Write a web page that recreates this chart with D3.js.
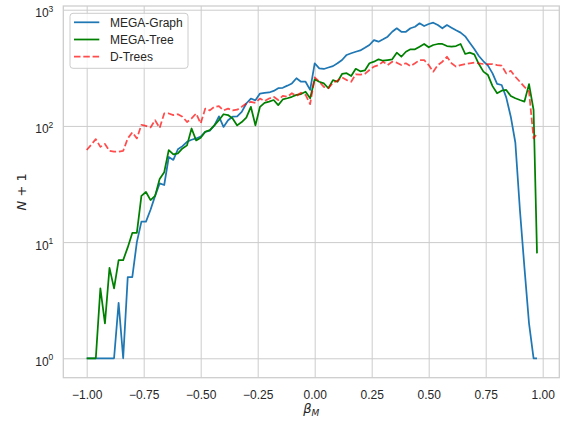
<!DOCTYPE html>
<html>
<head>
<meta charset="utf-8">
<script src="https://cdn.jsdelivr.net/npm/d3@7"></script>
<style>
  html, body { margin: 0; padding: 0; background: #ffffff; }
  svg { display: block; }
</style>
</head>
<body>
<svg id="chart" width="566" height="421"></svg>
<script>
// ---- data (bin position beta_M, and N+1 counts per method) ----
const betas = [
  -1.00,-0.98,-0.96,-0.94,-0.92,-0.90,-0.88,-0.86,-0.84,-0.82,
  -0.80,-0.78,-0.76,-0.74,-0.72,-0.70,-0.68,-0.66,-0.64,-0.62,
  -0.60,-0.58,-0.56,-0.54,-0.52,-0.50,-0.48,-0.46,-0.44,-0.42,
  -0.40,-0.38,-0.36,-0.34,-0.32,-0.30,-0.28,-0.26,-0.24,-0.22,
  -0.20,-0.18,-0.16,-0.14,-0.12,-0.10,-0.08,-0.06,-0.04,-0.02,
   0.00, 0.02, 0.04, 0.06, 0.08, 0.10, 0.12, 0.14, 0.16, 0.18,
   0.20, 0.22, 0.24, 0.26, 0.28, 0.30, 0.32, 0.34, 0.36, 0.38,
   0.40, 0.42, 0.44, 0.46, 0.48, 0.50, 0.52, 0.54, 0.56, 0.58,
   0.60, 0.62, 0.64, 0.66, 0.68, 0.70, 0.72, 0.74, 0.76, 0.78,
   0.80, 0.82, 0.84, 0.86, 0.88, 0.90, 0.92, 0.94, 0.96, 0.975
];

const megaGraph = [
  1,1,1,1,1,1,1,3,1,5,
  5,10,15,15,19,25,32,31,54,51,
  63,67,73,76,78,81,89,91,101,121,
  98,112,120,121,132,156,172,166,190,192,
  194,200,211,213,222,232,257,240,240,204,
  346,313,309,318,327,346,369,408,422,435,
  446,470,497,548,531,556,586,646,692,646,
  646,692,714,764,724,753,773,738,692,738,
  700,665,635,590,520,460,400,360,330,283,
  230,225,176,120,72,19,6,2,1,1
];

const megaTree = [
  1,1,1,4,2,6,4,7,7,9,
  12,12,25,27,23,25,35,40,62,57,
  58,64,68,95,75,79,89,92,101,112,
  126,124,116,101,108,118,146,101,146,158,
  162,167,151,169,173,178,185,188,197,173,
  252,240,232,211,248,240,280,284,269,310,
  295,300,346,357,374,364,369,374,427,394,
  435,456,456,481,507,475,497,507,507,487,
  481,487,507,416,427,413,341,293,274,220,
  191,201,204,181,173,167,162,229,137,8
];

const dTrees = [
  62,69,77,66,70,61,60,60,61,78,
  88,78,102,100,97,112,96,128,128,124,
  126,120,108,116,128,105,141,136,146,148,
  136,141,136,138,146,156,161,158,172,164,
  172,178,167,181,178,191,181,193,185,154,
  262,240,217,211,235,245,262,248,240,278,
  276,280,303,324,334,357,334,357,350,334,
  346,327,346,369,369,334,293,334,357,394,
  346,324,334,341,346,350,346,341,341,341,
  334,330,283,298,265,240,217,197,78,86
];

const xTickValues = [-1.00, -0.75, -0.50, -0.25, 0.00, 0.25, 0.50, 0.75, 1.00];
const yTickValues = [1, 10, 100, 1000];
const seriesNames = ["MEGA-Graph", "MEGA-Tree", "D-Trees"];

// ---- layout / styles ----
const plot = { left: 63.3, right: 559.3, top: 6, bottom: 377.7 };
const gridColor = "#cccccc";
const textColor = "#262626";
const styles = [
  { color: "#1f77b4", dash: null, opacity: 1 },
  { color: "#008000", dash: null, opacity: 1 },
  { color: "#ff0000", dash: "6.5,2.8", opacity: 0.7 }
];
const seriesValues = [megaGraph, megaTree, dTrees];

const svg = d3.select("#chart");
const x = d3.scaleLinear().domain([-1.1026, 1.0728]).range([plot.left, plot.right]);
const y = d3.scaleLog().domain([Math.pow(10, -0.167), Math.pow(10, 3.032)]).range([plot.bottom, plot.top]);

// background
svg.append("rect").attr("x", 0).attr("y", 0).attr("width", 566).attr("height", 421).attr("fill", "#ffffff");

// x axis + vertical gridlines
const fmtX = v => (v < 0 ? "\u2212" : "") + Math.abs(v).toFixed(2);
const gx = svg.append("g")
  .attr("transform", `translate(0,${plot.bottom})`)
  .call(d3.axisBottom(x).tickValues(xTickValues).tickFormat(fmtX)
        .tickSizeInner(-(plot.bottom - plot.top)).tickSizeOuter(0).tickPadding(0));
gx.select(".domain").remove();
gx.selectAll(".tick line").attr("stroke", gridColor).attr("stroke-width", 1);
gx.selectAll(".tick text")
  .attr("y", 21).attr("dy", null)
  .attr("fill", textColor)
  .attr("font-family", "'Liberation Sans', Arial, sans-serif")
  .attr("font-size", 12);

// y axis + horizontal gridlines
const gy = svg.append("g")
  .attr("transform", `translate(${plot.left},0)`)
  .call(d3.axisLeft(y).tickValues(yTickValues).tickFormat(() => "")
        .tickSizeInner(-(plot.right - plot.left)).tickSizeOuter(0).tickPadding(10));
gy.select(".domain").remove();
gy.selectAll(".tick line").attr("stroke", gridColor).attr("stroke-width", 1);
gy.selectAll(".tick text").each(function(d) {
  const t = d3.select(this);
  t.text(null).attr("dy", null).attr("y", 7)
   .attr("fill", textColor)
   .attr("font-family", "'Liberation Sans', Arial, sans-serif")
   .attr("font-size", 12)
   .attr("text-anchor", "end");
  t.append("tspan").text("10");
  t.append("tspan").attr("dy", -5.5).attr("font-size", 8.5).text(Math.round(Math.log10(d)));
});

// series lines
const line = d3.line()
  .x((d, i) => x(betas[i]))
  .y(d => y(d));

seriesValues.forEach((vals, k) => {
  svg.append("path")
    .datum(vals)
    .attr("fill", "none")
    .attr("stroke", styles[k].color)
    .attr("stroke-opacity", styles[k].opacity)
    .attr("stroke-width", 1.75)
    .attr("stroke-linejoin", "round")
    .attr("stroke-dasharray", styles[k].dash)
    .attr("d", line);
});

// frame
svg.append("rect")
  .attr("x", plot.left).attr("y", plot.top)
  .attr("width", plot.right - plot.left).attr("height", plot.bottom - plot.top)
  .attr("fill", "none").attr("stroke", gridColor).attr("stroke-width", 1.25);

// axis labels
const xl = svg.append("text")
  .attr("x", (plot.left + plot.right) / 2 + 0).attr("y", 413)
  .attr("text-anchor", "middle")
  .attr("fill", textColor)
  .attr("font-family", "'DejaVu Sans', sans-serif")
  .attr("font-size", 13);
xl.append("tspan").attr("font-style", "italic").text("\u03B2");
xl.append("tspan").attr("font-style", "italic").attr("font-size", 9).attr("dy", 3).text("M");

const yl = svg.append("text")
  .attr("transform", `translate(26,${(plot.top + plot.bottom) / 2}) rotate(-90)`)
  .attr("text-anchor", "middle")
  .attr("fill", textColor)
  .attr("font-family", "'DejaVu Sans', sans-serif")
  .attr("font-size", 13);
yl.append("tspan").attr("font-style", "italic").text("N");
yl.append("tspan").text(" + 1");

// legend
const lg = svg.append("g");
lg.append("rect")
  .attr("x", 70).attr("y", 13.3).attr("width", 118).attr("height", 55)
  .attr("rx", 3).attr("ry", 3)
  .attr("fill", "#ffffff").attr("fill-opacity", 0.8)
  .attr("stroke", gridColor).attr("stroke-width", 1);
seriesNames.forEach((name, k) => {
  const ly = 22.3 + k * 17.2;
  lg.append("line")
    .attr("x1", 74).attr("x2", 99.3).attr("y1", ly).attr("y2", ly)
    .attr("stroke", styles[k].color)
    .attr("stroke-opacity", styles[k].opacity)
    .attr("stroke-width", 1.75)
    .attr("stroke-dasharray", styles[k].dash);
  lg.append("text")
    .attr("x", 110).attr("y", ly + 4.3)
    .attr("fill", textColor)
    .attr("font-family", "'Liberation Sans', Arial, sans-serif")
    .attr("font-size", 12)
    .text(name);
});
</script>
</body>
</html>
